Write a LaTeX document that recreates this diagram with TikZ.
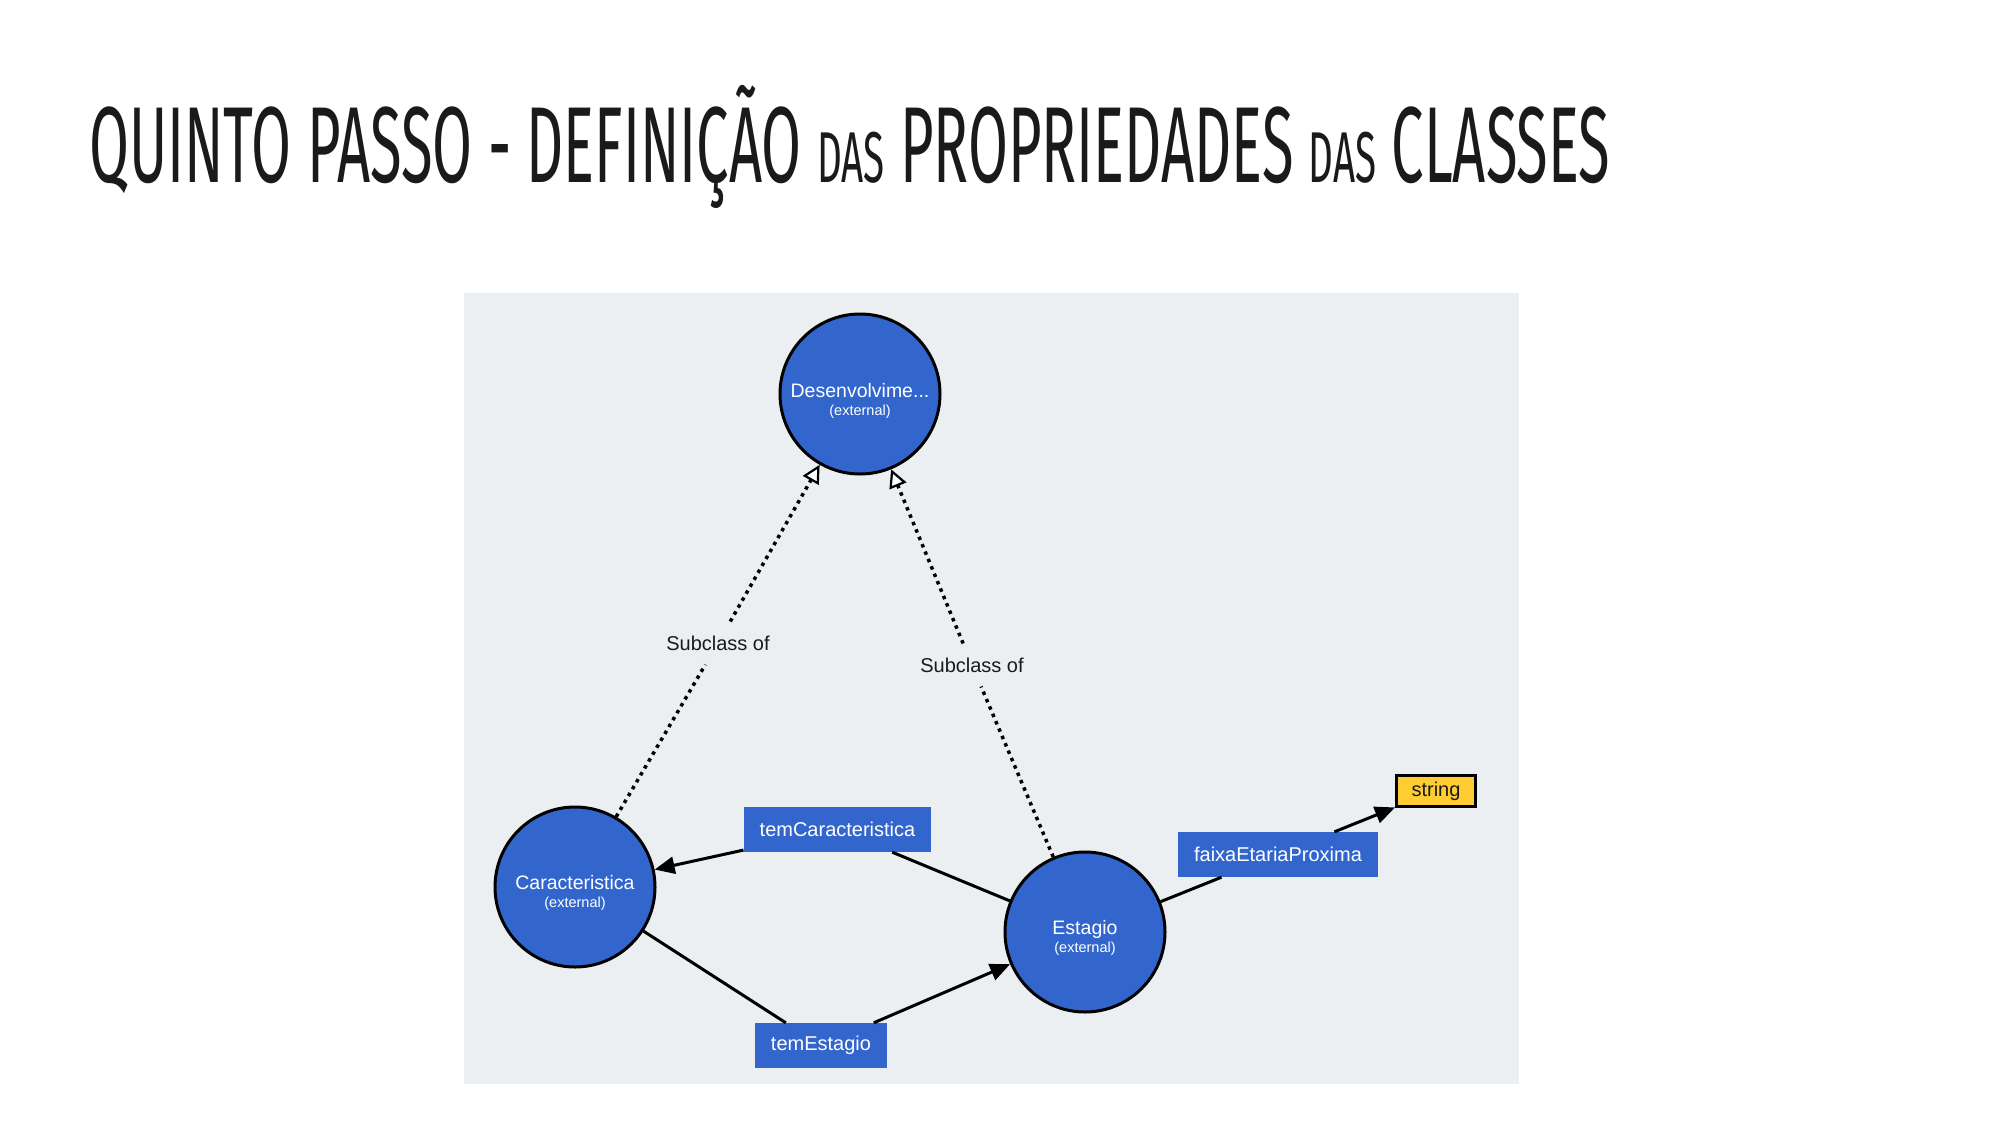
\documentclass[tikz,border=0pt]{standalone}
\usepackage{fontspec}
\usepackage{graphicx}
\setmainfont{Liberation Sans}
\newfontfamily\titlefont{Fira Sans}
\usetikzlibrary{arrows.meta}
\definecolor{panel}{HTML}{ECEFF1}
\definecolor{vblue}{HTML}{3366CC}
\definecolor{vyellow}{HTML}{FFCC33}
\definecolor{ink}{HTML}{1A1A1A}
\begin{document}
\begin{tikzpicture}[x=1pt,y=-1pt,
  cls/.style={circle,draw=black,line width=3pt,fill=vblue,minimum size=160pt,inner sep=0pt},
  clstext/.style={text=white,align=center,inner sep=0pt,font=\fontsize{19.5}{18}\selectfont},
  prop/.style={fill=vblue,text=white,minimum height=45pt,inner xsep=16pt,inner ysep=0pt,font=\fontsize{20}{24}\selectfont},
  lit/.style={fill=vyellow,draw=black,line width=3pt,minimum height=31pt,inner xsep=15pt,inner ysep=0pt,text=ink,font=\fontsize{20}{24}\selectfont},
  sublbl/.style={fill=panel,text=ink,inner xsep=4pt,inner ysep=14pt,font=\fontsize{20}{24}\selectfont},
  link/.style={line width=3pt,draw=black},
  arr/.style={link,-{Triangle[length=20pt,width=17pt]}},
  dotline/.style={line width=3.5pt,dash pattern=on 3.5pt off 4.5pt},
  subarr/.style={dotline,-{Triangle[open,fill=white,length=18pt,width=18pt,line width=2.2pt]}},
]
\useasboundingbox (0,0) rectangle (2000,1125);
\fill[white] (0,0) rectangle (2000,1125);
\fill[panel] (464,293) rectangle (1519,1084);

\node[anchor=base west,inner sep=0pt,text=ink] (title) at (89,182)
  {\resizebox{1521pt}{\height}{\titlefont\fontsize{108}{110}\selectfont QUINTO PASSO - DEFINIÇÃO {\fontsize{72}{72}\selectfont DAS} PROPRIEDADES {\fontsize{72}{72}\selectfont DAS} CLASSES}};

\node[cls] (des) at (860,394) {};
\node[cls] (car) at (575,887) {};
\node[cls] (est) at (1085,932) {};
\node[clstext] (desT) at ([yshift=-7pt]des.center) {Desenvolvime...\\{\fontsize{14.5}{15}\selectfont (external)}};
\node[clstext] (carT) at ([yshift=-6pt]car.center) {Caracteristica\\{\fontsize{14.5}{15}\selectfont (external)}};
\node[clstext] (estT) at ([yshift=-6pt]est.center) {Estagio\\{\fontsize{14.5}{15}\selectfont (external)}};

\node[prop] (tc) at (837.5,829.5) {temCaracteristica};
\node[prop] (te) at (821,1045.5) {temEstagio};
\node[prop] (fe) at (1278,854.5) {faixaEtariaProxima};
\node[lit] (str) at (1436,791) {string};
\node[sublbl] (s1) at (718,643) {Subclass of};
\node[sublbl] (s2) at (972,665) {Subclass of};

\draw[link] (est) -- (tc);
\draw[arr] (tc) -- (car);
\draw[link] (car) -- (te);
\draw[arr] (te) -- (est);
\draw[link] (est) -- (fe);
\draw[arr] (fe) -- (str);
\draw[dotline] (car) -- (s1);
\draw[subarr] (s1) -- (des);
\draw[dotline] (est) -- (s2);
\draw[subarr] (s2) -- (des);
\end{tikzpicture}
\end{document}
